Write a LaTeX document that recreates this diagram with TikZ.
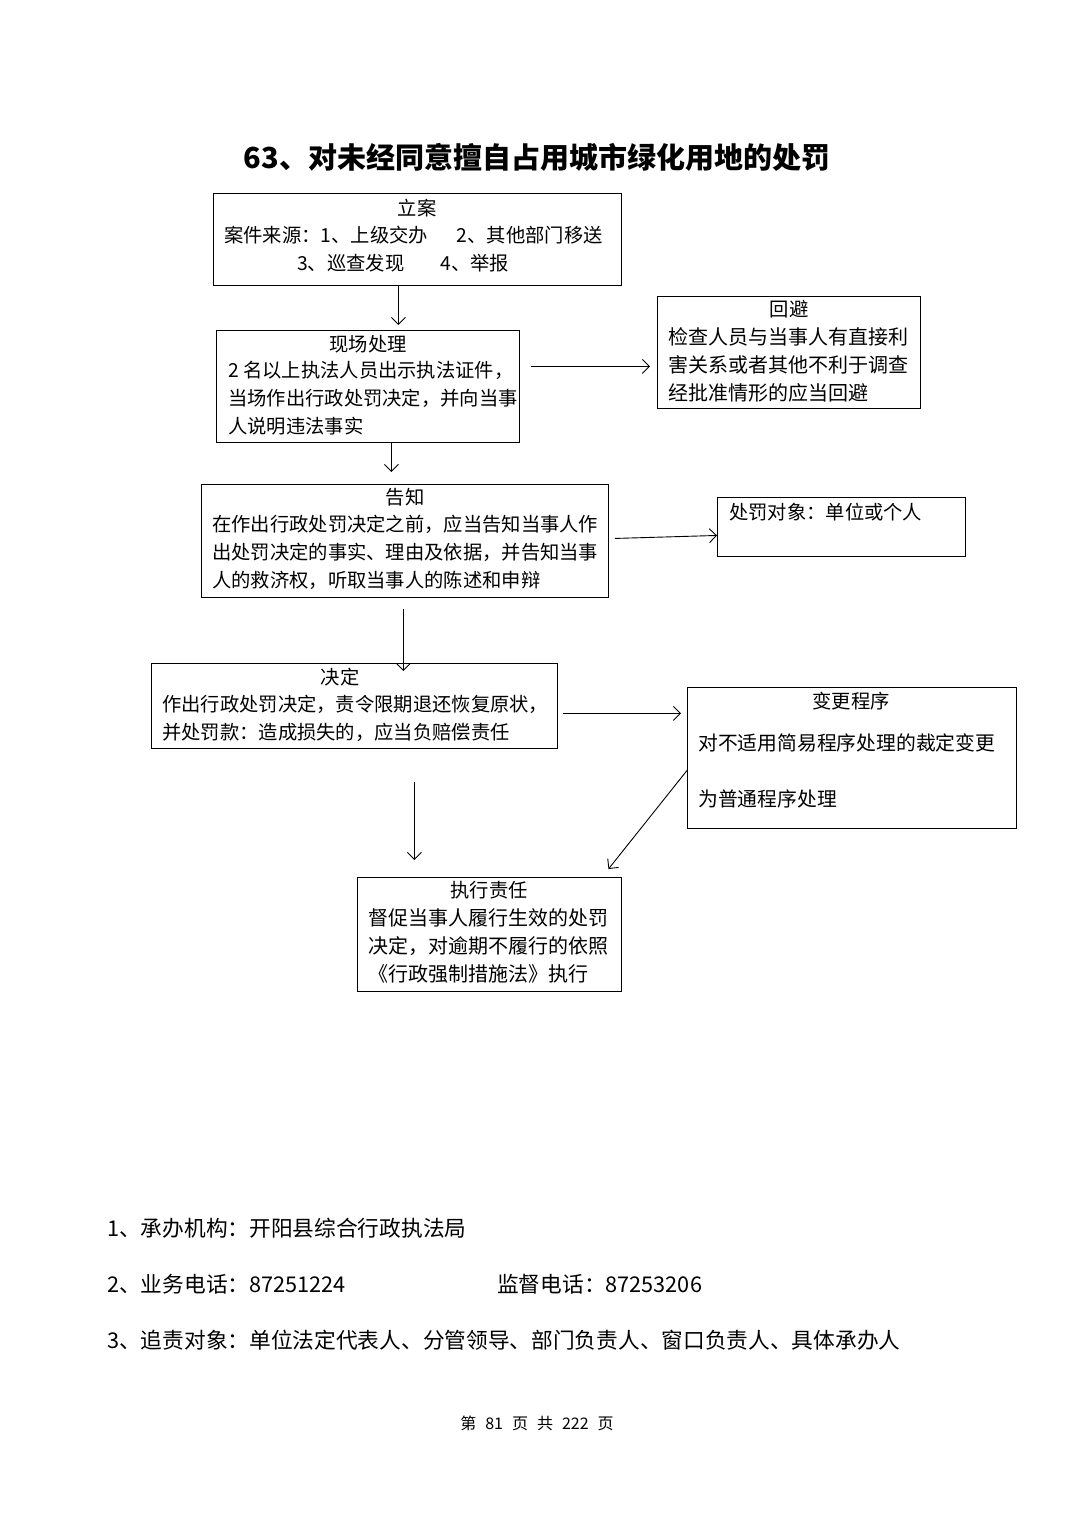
\documentclass[tikz,border=0pt]{standalone}
\usepackage{fontspec}
\newfontfamily\cjk{Noto Sans CJK SC}
\usetikzlibrary{arrows.meta}
\begin{document}
\begin{tikzpicture}[x=1pt,y=-1pt,
  box/.style={draw, line width=0.9pt, inner sep=0pt, anchor=north west},
  ttl/.style={font=\cjk\fontsize{19.3}{28}\selectfont, inner sep=0pt, anchor=center},
  body/.style={font=\cjk\fontsize{19.3}{28}\selectfont, inner sep=0pt, anchor=north west, align=left},
  foot/.style={font=\cjk\fontsize{21.7}{28}\selectfont, inner sep=0pt, anchor=west},
  arr/.style={line width=0.9pt, -{Straight Barb[length=7pt,width=14pt,line width=0.9pt]}}]
\useasboundingbox[fill=white] (0,0) rectangle (1074,1520);

% title
\node[font=\cjk\bfseries\fontsize{29}{34}\selectfont, inner sep=0pt] (title) at (537,157) {63、对未经同意擅自占用城市绿化用地的处罚};

% boxes
\node[box, minimum width=408pt, minimum height=92pt] (lian) at (213,193) {};
\node[box, minimum width=303pt, minimum height=112pt] (xc) at (216,330) {};
\node[box, minimum width=263pt, minimum height=112pt] (hb) at (657,296) {};
\node[box, minimum width=407pt, minimum height=113pt] (gz) at (201,484) {};
\node[box, minimum width=248pt, minimum height=59pt] (cf) at (717,497) {};
\node[box, minimum width=406pt, minimum height=85pt] (jd) at (151,663) {};
\node[box, minimum width=329pt, minimum height=141pt] (bg) at (687,687) {};
\node[box, minimum width=264pt, minimum height=114pt] (zx) at (357,877) {};

% texts
\node[ttl] (t1) at (417,208) {立案};
\node[ttl, anchor=west] (t1a) at (224,235) {案件来源：1、上级交办\hspace{29pt}2、其他部门移送};
\node[ttl, anchor=west] (t1b) at (297,263) {3、巡查发现\hspace{36pt}4、举报};

\node[ttl] (t2) at (368,344) {现场处理};
\node[body] (t2a) at (228,361) {2 名以上执法人员出示执法证件，\\当场作出行政处罚决定，并向当事\\人说明违法事实};

\node[ttl] (t3) at (789,309) {回避};
\node[body, font=\cjk\fontsize{20}{28}\selectfont] (t3a) at (668,327) {检查人员与当事人有直接利\\害关系或者其他不利于调查\\经批准情形的应当回避};

\node[ttl] (t4) at (405,497) {告知};
\node[body] (t4a) at (212,515) {在作出行政处罚决定之前，应当告知当事人作\\出处罚决定的事实、理由及依据，并告知当事\\人的救济权，听取当事人的陈述和申辩};

\node[ttl, anchor=west] (t5) at (729,512) {处罚对象：单位或个人};

\node[ttl] (t6) at (340,677) {决定};
\node[body] (t6a) at (162,695) {作出行政处罚决定，责令限期退还恢复原状，\\并处罚款：造成损失的，应当负赔偿责任};

\node[ttl] (t7) at (851,701) {变更程序};
\node[ttl, anchor=west, font=\cjk\fontsize{19.8}{28}\selectfont] (t7a) at (698,743) {对不适用简易程序处理的裁定变更};
\node[ttl, anchor=west, font=\cjk\fontsize{19.8}{28}\selectfont] (t7b) at (698,799) {为普通程序处理};

\node[ttl] (t8) at (489,890) {执行责任};
\node[body, font=\cjk\fontsize{20}{28}\selectfont] (t8a) at (368,908) {督促当事人履行生效的处罚\\决定，对逾期不履行的依照\\《行政强制措施法》执行};

% connectors
\draw[arr] ([xshift=-19pt]lian.south) -- ([xshift=30.5pt,yshift=5pt]xc.north);
\draw[arr] ([xshift=11pt,yshift=20pt]xc.east) -- ([xshift=-7pt,yshift=-14pt]hb.west);
\draw[arr] ([xshift=23.5pt]xc.south) -- ([xshift=-13.5pt,yshift=12pt]gz.north);
\draw[arr] ([xshift=6pt,yshift=2.5pt]gz.east) -- ([yshift=-8.5pt]cf.west);
\draw[arr] ([xshift=-1.5pt,yshift=-11pt]gz.south) -- ([xshift=49pt,yshift=-8pt]jd.north);
\draw[arr] ([xshift=5pt,yshift=-7.5pt]jd.east) -- ([xshift=-6pt,yshift=44.5pt]bg.west);
\draw[arr] ([xshift=60pt,yshift=-33pt]jd.south) -- ([xshift=-75pt,yshift=17pt]zx.north);
\draw[arr] ([yshift=-12.5pt]bg.west) -- ([xshift=119pt,yshift=8pt]zx.north);

% footer notes
\node[foot] (f1) at (107,1228) {1、承办机构：开阳县综合行政执法局};
\node[foot] (f2) at (107,1284) {2、业务电话：87251224};
\node[foot] (f2b) at (497,1284) {监督电话：87253206};
\node[foot] (f3) at (107,1340) {3、追责对象：单位法定代表人、分管领导、部门负责人、窗口负责人、具体承办人};
\node[font=\cjk\fontsize{16}{20}\selectfont, inner sep=0pt] (pg) at (537,1423) {第\hspace{9pt}81\hspace{9pt}页\hspace{9pt}共\hspace{9pt}222\hspace{9pt}页};
\end{tikzpicture}
\end{document}
